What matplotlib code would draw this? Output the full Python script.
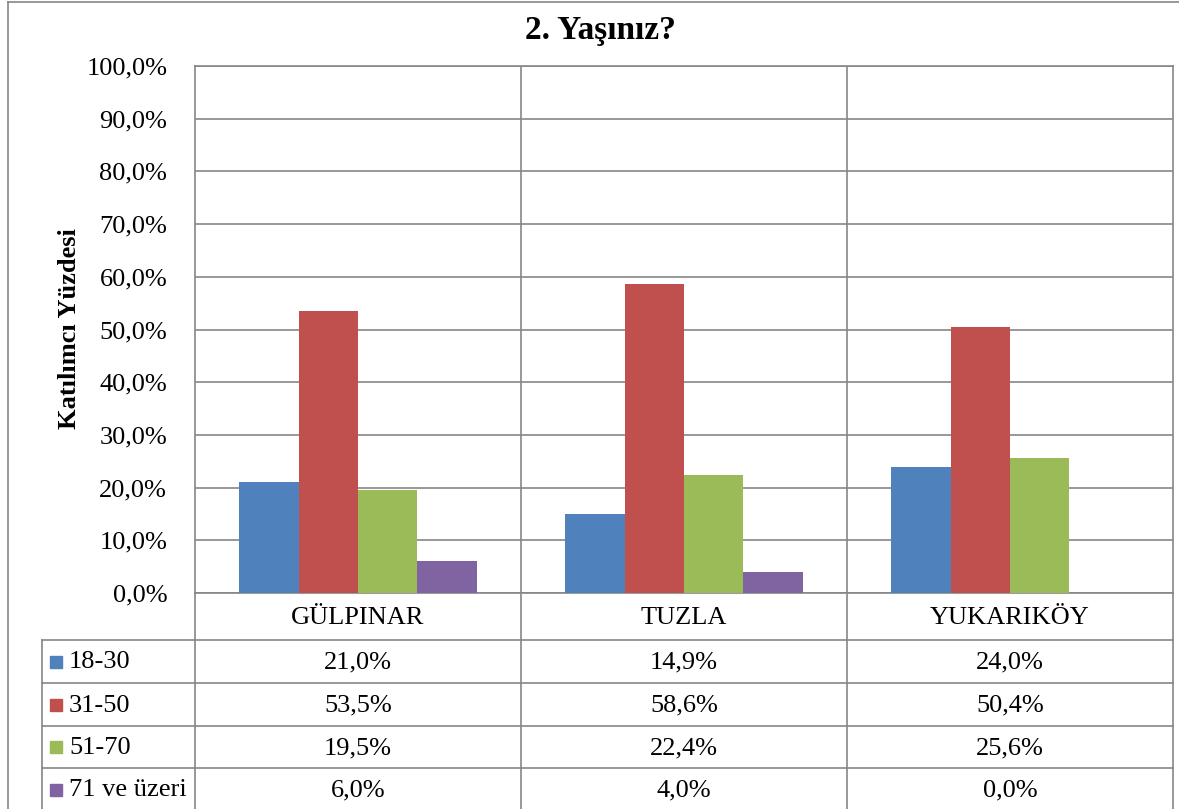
import matplotlib.pyplot as plt
from matplotlib.lines import Line2D
from matplotlib.patches import Rectangle
import numpy as np

plt.rcParams['font.family'] = ['Liberation Serif', 'DejaVu Serif']

categories = ['GÜLPINAR', 'TUZLA', 'YUKARIKÖY']
series_names = ['18-30', '31-50', '51-70', '71 ve üzeri']
values = {
    '18-30': [21.0, 14.9, 24.0],
    '31-50': [53.5, 58.6, 50.4],
    '51-70': [19.5, 22.4, 25.6],
    '71 ve üzeri': [6.0, 4.0, 0.0],
}
colors = ['#4F81BD', '#C0504D', '#9BBB59', '#8064A2']
yticks = np.arange(0, 101, 10)

W, H = 1179, 809
grid_c = '#868686'
fs = 19


def fx(x):
    return x / W


def fy(y):
    return 1 - y / H


fig = plt.figure(figsize=(W / 100, H / 100), dpi=100)

# plot area (pixels): x 195..1173, y 66..593
ax = fig.add_axes([fx(195), fy(593), fx(1173 - 195), (593 - 66) / H])
n = len(series_names)
bw = 1 / (n + 1.5)
x = np.arange(len(categories))
for i, name in enumerate(series_names):
    ax.bar(x + (i - (n - 1) / 2) * bw, values[name], width=bw,
           color=colors[i], zorder=3)

ax.set_xlim(-0.5, len(categories) - 0.5)
ax.set_ylim(0, 100)
ax.set_yticks(yticks)
ax.set_yticklabels([f'{v:.1f}%'.replace('.', ',') for v in yticks], fontsize=fs)
ax.tick_params(axis='y', length=0, pad=20)
ax.set_xticks([])
ax.grid(axis='y', color=grid_c, linewidth=1.2, zorder=0)
for sp in ax.spines.values():
    sp.set_color(grid_c)
    sp.set_linewidth(1.2)
for b in x[:-1] + 0.5:
    ax.axvline(b, color=grid_c, linewidth=1.2, zorder=1)

# data table below the plot, in pixel coordinates of the figure
rows_y = [593, 640, 683, 726, 768, 811]
col_x = [42, 195, 521, 847, 1173]


def hline(x0, x1, y):
    fig.add_artist(Line2D([fx(x0), fx(x1)], [fy(y), fy(y)], color=grid_c,
                          linewidth=1.2))


def vline(xp, y0, y1):
    fig.add_artist(Line2D([fx(xp), fx(xp)], [fy(y0), fy(y1)], color=grid_c,
                          linewidth=1.2))


for y in rows_y[1:-1]:
    hline(col_x[0], col_x[-1], y)
vline(col_x[0], rows_y[1], H)
for xp in col_x[1:]:
    vline(xp, rows_y[0], H)

for j, cat in enumerate(categories):
    cx = (col_x[j + 1] + col_x[j + 2]) / 2
    fig.text(fx(cx), fy((rows_y[0] + rows_y[1]) / 2 + 1), cat, fontsize=fs,
             ha='center', va='center')

for i, name in enumerate(series_names):
    cy = (rows_y[i + 1] + rows_y[i + 2]) / 2
    fig.add_artist(Rectangle((fx(50), fy(cy + 6)), fx(12), 12 / H,
                             color=colors[i]))
    fig.text(fx(69), fy(cy + 1), name, fontsize=fs, ha='left', va='center')
    for j, v in enumerate(values[name]):
        cx = (col_x[j + 1] + col_x[j + 2]) / 2
        fig.text(fx(cx), fy(cy + 1), f'{v:.1f}%'.replace('.', ','),
                 fontsize=fs, ha='center', va='center')

# chart outer border
hline(8, W, 2)
vline(8, 2, H)

fig.text(fx(600), fy(30), '2. Yaşınız?', fontsize=24, fontweight='bold',
         ha='center', va='center')
fig.text(fx(70), fy(329), 'Katılımcı Yüzdesi', fontsize=fs,
         fontweight='bold', rotation=90, ha='center', va='center')

fig.savefig('out.png', dpi=100)
